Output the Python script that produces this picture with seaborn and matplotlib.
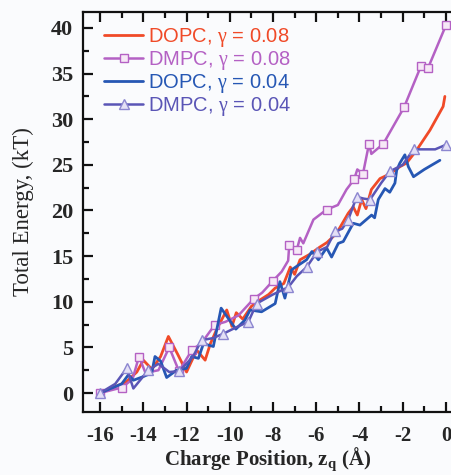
import seaborn as sns
import matplotlib.pyplot as plt
import numpy as np

# DOPC, gamma = 0.08 (no markers)
dopc08_x = [-16, -15.3, -14.8, -14.3, -14.0, -13.6, -13.2, -12.84, -12.4, -12.0, -11.53, -11.14,
            -10.9, -10.6, -10.14, -9.9, -9.7, -9.4, -9.0, -8.6, -8.2, -7.9, -7.5, -7.2, -7.0,
            -6.75, -6.3, -5.83, -5.5, -5.06, -4.52, -4.29, -4.1, -3.9, -3.7, -3.45, -3.05,
            -2.6, -2.13, -1.82, -1.36, -0.74, -0.13, -0.05]
dopc08_y = [0, 0.7, 1.2, 2.3, 3.6, 2.6, 4.0, 6.2, 4.2, 2.3, 4.7, 3.6,
            5.4, 7.0, 9.1, 7.3, 8.8, 8.1, 9.5, 10.2, 10.8, 11.5, 12.0, 13.8, 13.0,
            14.6, 15.2, 16.0, 16.5, 17.5, 19.7, 20.4, 19.5, 21.2, 20.2, 22.3, 23.5,
            24.0, 24.8, 25.2, 26.6, 28.8, 31.4, 32.5]

# DMPC, gamma = 0.08 (squares at the sampled points)
dmpc08_x = [-16, -15.0, -14.5, -14.2, -13.9, -13.3, -12.8, -12.35, -11.75, -11.3, -10.7, -10.2,
            -9.6, -8.9, -8.5, -8.0, -7.6, -7.3, -7.25, -6.9, -6.75, -6.6, -6.13, -5.52, -5.0,
            -4.6, -4.25, -4.1, -3.84, -3.56, -3.45, -2.9, -1.94, -1.16, -0.83, 0.0]
dmpc08_y = [0, 0.6, 1.5, 4.0, 2.2, 2.5, 5.0, 2.4, 4.7, 5.5, 7.45, 7.8,
            8.5, 10.3, 11.0, 12.3, 13.3, 14.5, 16.2, 15.7, 17.0, 16.4, 19.0, 20.1, 20.6,
            22.3, 23.4, 24.5, 24.0, 27.3, 26.2, 27.3, 31.3, 35.8, 35.6, 40.3]
dmpc08_marked = [-16, -15.0, -14.2, -12.8, -12.35, -11.75, -10.7, -8.9, -8.0, -7.25, -6.9,
                 -5.52, -4.25, -3.84, -3.56, -2.9, -1.94, -1.16, -0.83, 0.0]

# DOPC, gamma = 0.04 (no markers)
dopc04_x = [-16, -15.5, -15.0, -14.69, -14.46, -14.0, -13.61, -13.46, -13.2, -12.92, -12.46, -12.0,
            -11.76, -11.45, -11.22, -10.76, -10.4, -9.72, -9.3, -9.06, -8.53, -7.9, -7.68, -7.45,
            -7.14, -6.83, -6.45, -6.2, -5.9, -5.52, -5.29, -4.98, -4.75, -4.29, -3.98, -3.44,
            -3.3, -3.13, -2.82, -2.6, -2.36, -2.28, -2.13, -1.9, -1.74, -1.5, -1.0, -0.28]
dopc04_y = [0, 0.5, 1.0, 2.0, 1.4, 1.8, 2.2, 4.0, 3.5, 1.7, 2.5, 2.7,
            4.0, 3.8, 5.4, 5.1, 9.3, 7.0, 8.0, 9.1, 8.9, 9.8, 12.2, 10.4,
            13.5, 14.0, 14.6, 15.5, 14.6, 15.9, 14.9, 16.4, 16.6, 18.6, 18.4, 19.5,
            19.2, 21.2, 22.4, 22.0, 23.0, 24.4, 25.2, 26.1, 24.8, 23.7, 24.5, 25.5]

# DMPC, gamma = 0.04 (triangles at the sampled points)
dmpc04_x = [-16, -15.3, -14.77, -14.46, -13.77, -13.3, -12.8, -12.33, -11.7, -11.3, -10.8, -10.3,
            -9.7, -9.14, -8.76, -8.0, -7.29, -6.9, -6.44, -5.95, -5.5, -5.13, -4.8, -4.52,
            -4.13, -3.8, -3.51, -3.0, -2.59, -2.0, -1.5, -1.0, -0.5, 0.0]
dmpc04_y = [0, 1.0, 2.7, 0.5, 2.5, 3.2, 2.3, 2.4, 4.0, 5.8, 6.0, 6.5,
            7.2, 7.8, 9.8, 10.8, 11.6, 12.8, 13.8, 15.5, 16.0, 17.7, 18.0, 19.0,
            21.5, 21.3, 21.2, 23.0, 24.3, 25.0, 26.7, 26.7, 26.7, 27.2]
dmpc04_marked = [-16, -14.77, -13.77, -12.33, -11.3, -10.3, -9.14, -8.76, -7.29, -6.44, -5.95,
                 -5.13, -4.52, -4.13, -3.51, -2.59, -1.5, 0.0]

sns.set_style("ticks")
plt.rcParams["mathtext.fontset"] = "custom"
plt.rcParams["mathtext.rm"] = "Liberation Serif"
plt.rcParams["mathtext.bf"] = "Liberation Serif:bold"
plt.rcParams["axes.unicode_minus"] = False

bg = "#fafbfd"
fig = plt.figure(figsize=(4.52, 4.75), dpi=100, facecolor=bg)
ax = fig.add_axes([83 / 452, 63 / 475, 369 / 452, 400 / 475], facecolor=bg)

red = "#f04a28"
orchid = "#b461c4"
blue = "#2657b4"
slate = "#5a55b6"

every08 = [i for i, x in enumerate(dmpc08_x) if x in dmpc08_marked]
every04 = [i for i, x in enumerate(dmpc04_x) if x in dmpc04_marked]

sns.lineplot(x=dopc08_x, y=dopc08_y, sort=False, estimator=None, ax=ax, color=red, lw=2.0,
             label=r"DOPC, $\mathrm{\gamma}$ = 0.08")
sns.lineplot(x=dmpc08_x, y=dmpc08_y, sort=False, estimator=None, ax=ax, color=orchid, lw=1.8,
             marker="s", markersize=6, markerfacecolor="#f6e8f6", markeredgecolor=orchid,
             markeredgewidth=1.0, markevery=every08, label=r"DMPC, $\mathrm{\gamma}$ = 0.08")
sns.lineplot(x=dopc04_x, y=dopc04_y, sort=False, estimator=None, ax=ax, color=blue, lw=2.0,
             label=r"DOPC, $\mathrm{\gamma}$ = 0.04")
sns.lineplot(x=dmpc04_x, y=dmpc04_y, sort=False, estimator=None, ax=ax, color=slate, lw=1.8,
             marker="^", markersize=7, markerfacecolor="#e4e0f6", markeredgecolor="#8c86d0",
             markeredgewidth=1.0, markevery=every04, label=r"DMPC, $\mathrm{\gamma}$ = 0.04")

ax.set_xlim(-16.79, 0.28)
ax.set_ylim(-2.08, 41.75)
ax.set_xticks(np.arange(-16, 1, 2))
ax.set_xticks(np.arange(-15, 0, 2), minor=True)
ax.set_yticks(np.arange(0, 41, 5))
ax.set_yticks(np.arange(2.5, 41, 5), minor=True)

ax.spines["right"].set_visible(False)
for s in ["left", "top", "bottom"]:
    ax.spines[s].set_linewidth(1.6)
    ax.spines[s].set_color("#111111")

ax.tick_params(which="both", direction="in", top=True, right=False, width=1.6, color="#111111")
ax.tick_params(which="major", length=7)
ax.tick_params(which="minor", length=4)
ax.tick_params(axis="x", which="major", pad=10)
ax.tick_params(axis="y", which="major", pad=7)
for lab in ax.get_xticklabels():
    lab.set_fontfamily("Liberation Serif")
    lab.set_fontweight("bold")
    lab.set_fontsize(15)
for lab in ax.get_yticklabels():
    lab.set_fontfamily("Liberation Serif")
    lab.set_fontweight("bold")
    lab.set_fontsize(16)

ax.set_xlabel(r"Charge Position, z$_\mathbf{q}$ (Å)", fontfamily="Liberation Serif",
              fontweight="bold", fontsize=15, labelpad=0)
ax.set_ylabel("Total Energy, (kT)", fontfamily="Liberation Serif", fontsize=16.5, labelpad=12)

leg = ax.legend(loc="upper left", frameon=False, handlelength=1.95, handletextpad=0.25,
                labelspacing=0.0, borderaxespad=0.0, bbox_to_anchor=(0.035, 0.985),
                labelcolor="linecolor", prop={"family": "Liberation Sans", "size": 14.5})

plt.savefig("out.png", dpi=100, facecolor=bg)
